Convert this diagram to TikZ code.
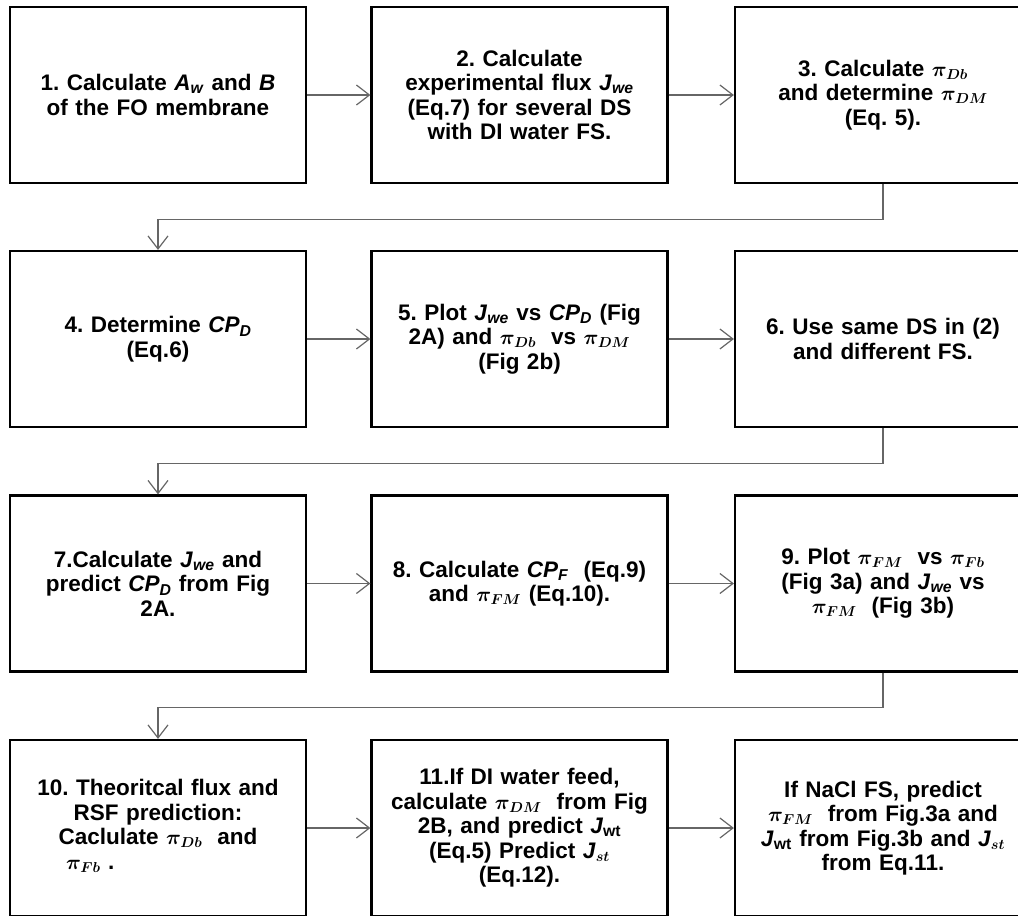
\documentclass[tikz,border=0pt]{standalone}
\usepackage{fontspec}
\setmainfont{Liberation Sans}
\usepackage{amsmath}
\usetikzlibrary{arrows.meta}

\newcommand{\txsub}[2]{\textit{#1}\textsubscript{\textit{#2}}}
\newcommand{\pisub}[1]{$\pi_{#1}$}

\tikzset{
  stepbox/.style={draw, line width=2.2pt, minimum width=296pt, minimum height=176pt,
    text width=290pt, align=center, inner sep=2pt,
    font=\fontsize{22.5}{24.5}\selectfont\bfseries\boldmath\frenchspacing},
  flow/.style={draw=black!60, line width=1.2pt, -{Straight Barb[length=13pt,width=20pt]}}
}

\begin{document}
\begin{tikzpicture}[x=1pt, y=-1pt]

    % Marco fijo de la imagen
    \useasboundingbox (0,0) rectangle (1018,916);

    % 1. Primera fila
    \node[stepbox] (s1) at (158,95) {1. Calculate \txsub{A}{w} and \textit{B}\\ of the FO membrane};
    \node[stepbox] (s2) at (519.5,95) {2. Calculate\\ experimental flux \txsub{J}{we}\\ (Eq.7) for several DS\\ with DI water FS.};
    \node[stepbox] (s3) at (883,95) {3. Calculate \pisub{Db}\\ and determine \pisub{DM}\\ (Eq. 5).};

    % 2. Segunda fila
    \node[stepbox] (s4) at (158,339) {4. Determine \txsub{CP}{D}\\ (Eq.6)};
    \node[stepbox] (s5) at (519.5,339) {5. Plot \txsub{J}{we} vs \txsub{CP}{D} (Fig\\ 2A) and \pisub{Db}\ \ vs \pisub{DM}\\ (Fig 2b)};
    \node[stepbox] (s6) at (883,339) {6. Use same DS in (2)\\ and different FS.};

    % 3. Tercera fila
    \node[stepbox] (s7) at (158,583.5) {7.Calculate \txsub{J}{we} and\\ predict \txsub{CP}{D} from Fig\\ 2A.};
    \node[stepbox] (s8) at (519.5,583.5) {8. Calculate \txsub{CP}{F}\ \ (Eq.9)\\ and \pisub{FM}\ (Eq.10).};
    \node[stepbox] (s9) at (883,583.5) {9. Plot \pisub{FM}\ \ vs \pisub{Fb}\\ (Fig 3a) and \txsub{J}{we} vs\\ \pisub{FM}\ \ (Fig 3b)};

    % 4. Cuarta fila
    \node[stepbox] (s10) at (158,828) {10. Theoritcal flux and\\ RSF prediction:\\
      \begin{tabular}[t]{@{}l@{}}Caclulate \pisub{Db}\ \ and\\ \ \pisub{Fb}\ .\end{tabular}};
    \node[stepbox] (s11) at (519.5,828) {11.If DI water feed,\\ calculate \pisub{DM}\ \ from Fig\\
      2B, and predict \textit{J}\textsubscript{wt}\\ (Eq.5) Predict \textit{J}$_{st}$\\ (Eq.12).};
    \node[stepbox] (s12) at (883,828) {If NaCl FS, predict\\ \pisub{FM}\ \ from Fig.3a and\\
      \textit{J}\textsubscript{wt} from Fig.3b and \textit{J}$_{st}$\\ from Eq.11.};

    % 5. Flechas dentro de cada fila
    \foreach \a/\b in {s1/s2, s2/s3, s4/s5, s5/s6, s7/s8, s8/s9, s10/s11, s11/s12} {
        \draw[flow] (\a) -- (\b);
    }

    % 6. Retornos al inicio de la fila siguiente
    \foreach \a/\b in {s3/s4, s6/s7, s9/s10} {
        \draw[flow] (\a.south) -- ++(0,35) -| (\b.north);
    }

\end{tikzpicture}
\end{document}
